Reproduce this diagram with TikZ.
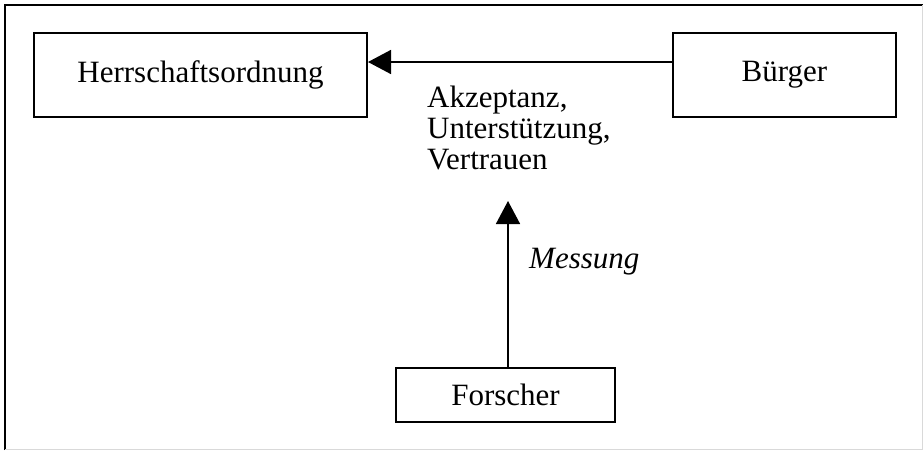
\documentclass[tikz,border=0pt]{standalone}
\usepackage{fontspec}
\setmainfont{Liberation Serif}
\usetikzlibrary{arrows.meta}
\begin{document}
\begin{tikzpicture}[x=1pt,y=-1pt,
  box/.style={draw, line width=2pt, minimum height=84pt, inner sep=0pt},
  lbl/.style={font=\fontsize{31}{31}\selectfont, inner sep=0pt},
  conn/.style={line width=1.6pt, -{Triangle[length=23pt,width=24pt]}}]
\useasboundingbox (0,0) rectangle (924,450);
\draw[line width=2pt] (5,450) -- (5,5) -- (923,5);
\draw[line width=1pt, black!15] (922.5,5) -- (922.5,449) -- (5,449);
\node[box, minimum width=333pt] (h) at (200.5,75) {};
\node[lbl] (ht) at (h.center) {Herrschaftsordnung};
\node[box, minimum width=223pt] (b) at (784.5,75) {};
\node[lbl] (bt) at (b.center) {Bürger};
\node[box, minimum width=219pt, minimum height=54pt] (f) at (505.5,395) {};
\node[lbl] (ft) at (f.center) {Forscher};
\draw[conn] (b.west |- 0,62) -- (h.east |- 0,62);
\node[lbl, anchor=north west, align=left] (akv) at (427,86) {Akzeptanz,\\Unterstützung,\\Vertrauen};
\coordinate (tip) at (508,201);
\draw[conn] (f.north -| tip) -- (tip);
\node[lbl, anchor=base west] (m) at (529,268) {\itshape Messung};
\end{tikzpicture}
\end{document}
